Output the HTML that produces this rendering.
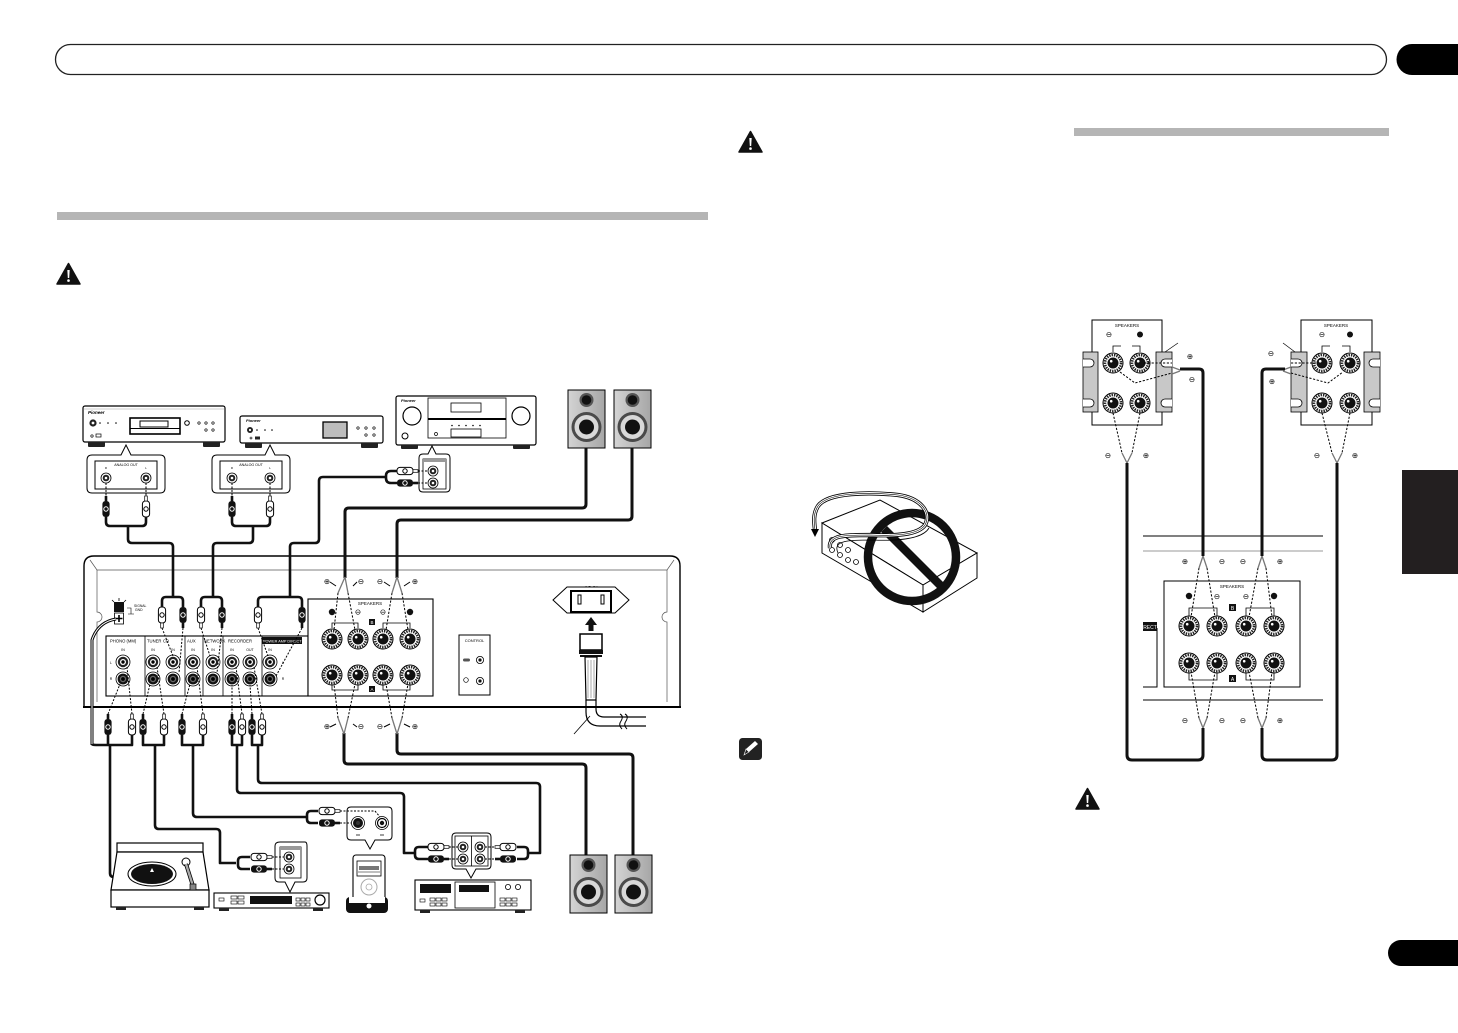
<!DOCTYPE html>
<html><head><meta charset="utf-8"><style>
html,body{margin:0;padding:0;background:#fff}
svg{display:block}
text{font-family:"Liberation Sans","DejaVu Sans",sans-serif}
.sym{font-family:"DejaVu Sans","Liberation Sans",sans-serif}
</style></head><body>
<svg width="1458" height="1033" viewBox="0 0 1458 1033" xmlns="http://www.w3.org/2000/svg">
<defs>
<linearGradient id="sg" x1="0" y1="0" x2="1" y2="0"><stop offset="0" stop-color="#d4d4d4"/><stop offset="1" stop-color="#a6a6a6"/></linearGradient>
<g id="spk"><rect x="0" y="0" width="37" height="58" fill="url(#sg)" stroke="#000" stroke-width="1"/><circle cx="18.5" cy="10" r="7" fill="#555"/><circle cx="18.5" cy="10" r="4.8" fill="#111"/><circle cx="18.5" cy="37" r="15" fill="#4a4a4a"/><circle cx="18.5" cy="37" r="12" fill="#d8d8d8"/><circle cx="18.5" cy="37" r="7.5" fill="#111"/></g>
<g id="post"><circle r="10" fill="#fff" stroke="#000" stroke-width="1"/><circle r="8" fill="none" stroke="#222" stroke-width="2.6" stroke-dasharray="1.4 1"/><circle r="5.5" fill="#111"/><circle cx="-1.8" cy="-1.8" r="1.3" fill="#fff"/></g>
<g id="jk"><circle r="7" fill="#fff" stroke="#000" stroke-width=".8"/><circle r="5.2" fill="#222"/><circle r="3" fill="#fff"/><circle r="1.7" fill="#000"/></g>
<g id="jkR"><circle r="7" fill="#fff" stroke="#000" stroke-width=".8"/><circle r="5.4" fill="#111"/><circle r="3.2" fill="#666"/><circle r="1.9" fill="#000"/></g>
<g id="sj"><circle r="5" fill="#fff" stroke="#000" stroke-width=".8"/><circle r="3.3" fill="#222"/><circle r="1.3" fill="#fff"/></g>
<g id="pb"><rect x="-3.6" y="-8" width="7.2" height="16" rx="3" fill="#111"/><circle r="2.2" fill="none" stroke="#fff" stroke-width="1"/><rect x="-1.3" y="8" width="2.6" height="5" fill="#111"/></g>
<g id="pw"><rect x="-3.6" y="-8" width="7.2" height="16" rx="3" fill="#fff" stroke="#000" stroke-width="1"/><circle r="2.2" fill="none" stroke="#000" stroke-width="1"/><rect x="-1.3" y="8" width="2.6" height="5" fill="#fff" stroke="#000" stroke-width=".7"/></g>
<g id="warn"><path d="M11.5,0.5 L23,21 L0,21 Z" fill="#111" stroke="#111" stroke-linejoin="round" stroke-width="1.5"/><path d="M10.3,7 H12.7 L12.2,15 H10.8 Z" fill="#fff"/><circle cx="11.5" cy="17.6" r="1.3" fill="#fff"/></g>
</defs>

<!-- header -->
<rect x="55.5" y="44.5" width="1331" height="30" rx="15" fill="#fff" stroke="#222" stroke-width="1.3"/>
<path d="M1412,44 H1458 V75 H1412 A15.5,15.5 0 0 1 1412,44 Z" fill="#000"/>

<!-- gray bars -->
<rect x="57" y="212" width="651" height="8" fill="#b5b5b5"/>
<rect x="1074" y="128" width="315" height="8" fill="#b5b5b5"/>

<!-- warnings / note -->
<use href="#warn" x="57" y="263"/>
<use href="#warn" x="739" y="131"/>
<use href="#warn" x="1076" y="788"/>
<rect x="739" y="738" width="23" height="22" rx="3.5" fill="#222"/>
<path d="M744,755 L746,749 L755,741 L758,744 L749,752 Z" fill="#fff"/><path d="M744,755 L746,749 L749,752 Z" fill="#222" stroke="#fff" stroke-width=".6"/>

<!-- side tabs -->
<rect x="1402" y="470" width="56" height="104" fill="#231f20"/>
<path d="M1401,940 H1458 V966 H1401 A13,13 0 0 1 1401,940 Z" fill="#000"/>

<!-- ================= LEFT DIAGRAM ================= -->
<!-- CD player -->
<rect x="83" y="406" width="142" height="36" rx="2" fill="#fff" stroke="#000" stroke-width="1.2"/>
<line x1="84" y1="409" x2="224" y2="409" stroke="#999" stroke-width=".6"/>
<text x="88" y="414" font-size="4.5" font-style="italic" font-weight="bold">Pioneer</text>
<circle cx="93" cy="423" r="3.6" fill="#222"/><circle cx="93" cy="423" r="1.4" fill="#fff"/>
<circle cx="100" cy="423" r=".8"/><circle cx="108" cy="423" r=".8"/><circle cx="116" cy="423" r=".8"/>
<rect x="130" y="418" width="50" height="16" fill="#fff" stroke="#000" stroke-width="1.6"/>
<rect x="140" y="421" width="28" height="6" fill="#fff" stroke="#000" stroke-width="1"/>
<line x1="130" y1="428.5" x2="180" y2="428.5" stroke="#000" stroke-width="1"/>
<circle cx="187" cy="423" r="2.3" fill="none" stroke="#000"/>
<circle cx="199" cy="423" r="1.2" fill="none" stroke="#000" stroke-width=".7"/><circle cx="206" cy="423" r="1.2" fill="none" stroke="#000" stroke-width=".7"/><circle cx="213" cy="423" r="1.2" fill="none" stroke="#000" stroke-width=".7"/>
<circle cx="206" cy="430" r="1.2" fill="none" stroke="#000" stroke-width=".7"/><circle cx="213" cy="430" r="1.2" fill="none" stroke="#000" stroke-width=".7"/>
<rect x="96" y="434" width="5" height="3" fill="none" stroke="#000" stroke-width=".7"/><circle cx="92" cy="436" r="1.2" fill="none" stroke="#000" stroke-width=".7"/>
<rect x="88" y="442" width="17" height="5" rx="1" fill="#222"/><rect x="203" y="442" width="17" height="5" rx="1" fill="#222"/>

<!-- network player -->
<rect x="240" y="416" width="143" height="27" rx="2" fill="#fff" stroke="#000" stroke-width="1.2"/>
<text x="246" y="422" font-size="4" font-style="italic" font-weight="bold">Pioneer</text>
<circle cx="250" cy="430" r="3" fill="#222"/><circle cx="250" cy="430" r="1.1" fill="#fff"/>
<circle cx="257" cy="430" r=".8"/><circle cx="265" cy="430" r=".8"/><circle cx="272" cy="430" r=".8"/>
<circle cx="251" cy="438" r="1" fill="none" stroke="#000" stroke-width=".6"/><rect x="255" y="436.5" width="5" height="3" fill="#222"/>
<rect x="323" y="422" width="24" height="16" fill="#bdbdbd" stroke="#000" stroke-width="1.3"/>
<circle cx="358" cy="428" r="1.2" fill="none" stroke="#000" stroke-width=".7"/><circle cx="366" cy="428" r="1.2" fill="none" stroke="#000" stroke-width=".7"/><circle cx="374" cy="428" r="1.2" fill="none" stroke="#000" stroke-width=".7"/>
<circle cx="366" cy="435" r="1.2" fill="none" stroke="#000" stroke-width=".7"/><circle cx="374" cy="435" r="1.2" fill="none" stroke="#000" stroke-width=".7"/>
<rect x="245" y="443" width="17" height="5" rx="1" fill="#222"/><rect x="361" y="443" width="17" height="5" rx="1" fill="#222"/>

<!-- AV receiver -->
<rect x="396" y="396" width="140" height="49" rx="2" fill="#fff" stroke="#000" stroke-width="1.2"/>
<text x="401" y="402" font-size="4" font-style="italic" font-weight="bold">Pioneer</text>
<rect x="428" y="398" width="78" height="40" fill="#fff" stroke="#000" stroke-width=".8"/>
<circle cx="412" cy="416" r="9" fill="#fff" stroke="#000" stroke-width="1.2"/><circle cx="521" cy="416" r="9" fill="#fff" stroke="#000" stroke-width="1.2"/>
<circle cx="405" cy="436" r="3" fill="none" stroke="#000" stroke-width="1"/>
<rect x="451" y="403" width="30" height="9" fill="#fff" stroke="#000" stroke-width=".8"/>
<line x1="428" y1="419" x2="506" y2="419" stroke="#000" stroke-width="2"/>
<circle cx="452" cy="425.5" r=".8"/><circle cx="459" cy="425.5" r=".8"/><circle cx="466" cy="425.5" r=".8"/><circle cx="473" cy="425.5" r=".8"/><circle cx="480" cy="425.5" r=".8"/>
<rect x="451" y="429" width="30" height="8" fill="#fff" stroke="#000" stroke-width=".8"/>
<circle cx="436" cy="434" r="1.5" fill="none" stroke="#000" stroke-width=".7"/>
<rect x="401" y="445" width="17" height="4" rx="1" fill="#222"/><rect x="513" y="445" width="17" height="4" rx="1" fill="#222"/>

<!-- top speakers -->
<use href="#spk" x="568" y="390"/>
<use href="#spk" x="614" y="390"/>

<!-- callouts top -->
<path d="M92,455 H121 L126,445 L131,455 H160 Q165,455 165,460 V488 Q165,493 160,493 H92 Q87,493 87,488 V460 Q87,455 92,455 Z" fill="#fff" stroke="#000" stroke-width="1"/>
<rect x="95" y="461" width="62" height="28" fill="#fff" stroke="#000" stroke-width="1"/>
<text x="126" y="466" font-size="3.6" text-anchor="middle">ANALOG OUT</text>
<text x="106" y="469" font-size="3" text-anchor="middle">R</text><text x="146" y="469" font-size="3" text-anchor="middle">L</text>
<use href="#sj" x="106" y="478"/><use href="#sj" x="146" y="478"/>

<path d="M217,455 H265 L270,445 L275,455 H285 Q290,455 290,460 V488 Q290,493 285,493 H217 Q212,493 212,488 V460 Q212,455 217,455 Z" fill="#fff" stroke="#000" stroke-width="1"/>
<rect x="220" y="461" width="62" height="28" fill="#fff" stroke="#000" stroke-width="1"/>
<text x="251" y="466" font-size="3.6" text-anchor="middle">ANALOG OUT</text>
<text x="232" y="469" font-size="3" text-anchor="middle">R</text><text x="270" y="469" font-size="3" text-anchor="middle">L</text>
<use href="#sj" x="232" y="478"/><use href="#sj" x="270" y="478"/>

<path d="M423,454 H428 L432,446 L436,454 H446 Q450,454 450,458 V488 Q450,492 446,492 H423 Q419,492 419,488 V458 Q419,454 423,454 Z" fill="#fff" stroke="#000" stroke-width="1"/>
<rect x="423" y="459" width="23" height="30" fill="#fff" stroke="#000" stroke-width=".8"/>
<rect x="423" y="459" width="23" height="3" fill="#999"/>
<use href="#sj" x="433" y="471"/><use href="#sj" x="433" y="483"/>

<!-- dashed from callout jacks -->
<g stroke="#000" stroke-width="1" stroke-dasharray="2 1.5" fill="none">
<path d="M106,483 V496"/><path d="M146,483 V496"/><path d="M232,483 V496"/><path d="M270,483 V496"/>
<path d="M418,471 H428"/><path d="M418,483 H428"/>
</g>
<g transform="translate(106,509) rotate(180)"><use href="#pb"/></g>
<g transform="translate(146,509) rotate(180)"><use href="#pw"/></g>
<g transform="translate(232,509) rotate(180)"><use href="#pb"/></g>
<g transform="translate(270,509) rotate(180)"><use href="#pw"/></g>
<g transform="translate(405,471) rotate(-90)"><use href="#pw"/></g>
<g transform="translate(405,483) rotate(-90)"><use href="#pb"/></g>

<!-- REAR PANEL -->
<path d="M84,707 V566 Q84,556 94,556 H670 Q680,556 680,566 V707" fill="#fff" stroke="#000" stroke-width="1.4"/>
<line x1="83" y1="707" x2="681" y2="707" stroke="#000" stroke-width="2"/>
<path d="M90,560 L97,570 H667 L674,560" fill="none" stroke="#555" stroke-width=".7"/>
<path d="M97,570 V612 A5,5 0 0 1 97,622 V702" fill="none" stroke="#555" stroke-width=".7"/>
<path d="M667,570 V612 A5,5 0 0 0 667,622 V702" fill="none" stroke="#555" stroke-width=".7"/>

<!-- ground -->
<rect x="114" y="602" width="10" height="10" fill="#111"/>
<g stroke="#000" stroke-width=".8"><line x1="112" y1="600" x2="114" y2="602"/><line x1="126" y1="600" x2="124" y2="602"/><line x1="119" y1="598" x2="119" y2="601"/></g>
<rect x="114.5" y="613" width="9" height="11" fill="#fff" stroke="#000" stroke-width=".8"/>
<path d="M119,615 V622 M115.5,618.5 H122.5" stroke="#000" stroke-width="1.6"/>
<path d="M127,608 H131 V614 M128,614 H134" fill="none" stroke="#000" stroke-width=".6"/>
<text x="134" y="607" font-size="3.4">SIGNAL</text><text x="135" y="611" font-size="3.4">GND</text>
<path d="M116,619 Q98,622 92,640 V745" fill="none" stroke="#000" stroke-width="3"/>
<path d="M116,619 Q98,622 92,640 V745" fill="none" stroke="#fff" stroke-width="1"/>

<!-- jack panel -->
<rect x="106" y="636" width="202" height="60" fill="#fff" stroke="#000" stroke-width="1.1"/>
<g stroke="#000" stroke-width=".8"><line x1="145" y1="636" x2="145" y2="696"/><line x1="185" y1="636" x2="185" y2="696"/><line x1="203" y1="636" x2="203" y2="696"/><line x1="223" y1="636" x2="223" y2="696"/><line x1="262" y1="636" x2="262" y2="696"/></g>
<rect x="262" y="637" width="40" height="7" fill="#111"/>
<g font-size="4.2">
<text x="110" y="642.5">PHONO (MM)</text><text x="147" y="642.5">TUNER</text><text x="163" y="642.5">CD</text><text x="187" y="642.5">AUX</text><text x="204" y="642.5">NETWORK</text><text x="228" y="642.5">RECORDER</text>
<text x="263" y="642.5" fill="#fff" font-size="3.8">POWER AMP DIRECT</text>
</g>
<g font-size="3.5" text-anchor="middle">
<text x="123" y="651">IN</text><text x="153" y="651">IN</text><text x="173" y="651">IN</text><text x="193" y="651">IN</text><text x="213" y="651">IN</text><text x="232" y="651">IN</text><text x="250" y="651">OUT</text><text x="270" y="651">IN</text>
<text x="111" y="664">L</text><text x="111" y="680">R</text><text x="283" y="664">L</text><text x="283" y="680">R</text>
</g>
<use href="#jk" x="123" y="662"/><use href="#jk" x="153" y="662"/><use href="#jk" x="173" y="662"/><use href="#jk" x="193" y="662"/><use href="#jk" x="213" y="662"/><use href="#jk" x="232" y="662"/><use href="#jk" x="250" y="662"/><use href="#jk" x="270" y="662"/>
<use href="#jkR" x="123" y="679"/><use href="#jkR" x="153" y="679"/><use href="#jkR" x="173" y="679"/><use href="#jkR" x="193" y="679"/><use href="#jkR" x="213" y="679"/><use href="#jkR" x="232" y="679"/><use href="#jkR" x="250" y="679"/><use href="#jkR" x="270" y="679"/>

<!-- dashed from plugs to jacks -->
<g stroke="#000" stroke-width="1" stroke-dasharray="2 1.5" fill="none">
<path d="M162,628 L173,656"/><path d="M183,628 L179,673"/>
<path d="M201,628 L210,656"/><path d="M222,628 L217,673"/>
<path d="M258,628 L268,656"/><path d="M302,628 L276,676"/>
<path d="M108,714 L120,684"/><path d="M132,714 L127,667"/>
<path d="M143,714 L150,684"/><path d="M164,714 L157,667"/>
<path d="M182,714 L190,684"/><path d="M203,714 L197,667"/>
<path d="M232,714 L232,685"/><path d="M242,714 L236,667"/>
<path d="M252,714 L250,685"/><path d="M262,714 L254,667"/>
</g>

<!-- top plugs -->
<use href="#pw" x="162" y="615"/><use href="#pb" x="183" y="615"/>
<use href="#pw" x="201" y="615"/><use href="#pb" x="222" y="615"/>
<use href="#pw" x="258" y="615"/><use href="#pb" x="302" y="615"/>
<!-- bottom plugs -->
<g transform="translate(108,727) rotate(180)"><use href="#pb"/></g>
<g transform="translate(132,727) rotate(180)"><use href="#pw"/></g>
<g transform="translate(143,727) rotate(180)"><use href="#pb"/></g>
<g transform="translate(164,727) rotate(180)"><use href="#pw"/></g>
<g transform="translate(182,727) rotate(180)"><use href="#pb"/></g>
<g transform="translate(203,727) rotate(180)"><use href="#pw"/></g>
<g transform="translate(232,727) rotate(180)"><use href="#pb"/></g>
<g transform="translate(242,727) rotate(180)"><use href="#pw"/></g>
<g transform="translate(252,727) rotate(180)"><use href="#pb"/></g>
<g transform="translate(262,727) rotate(180)"><use href="#pw"/></g>

<!-- speaker terminal box -->
<rect x="308" y="599" width="125" height="97" fill="#fff" stroke="#000" stroke-width="1.1"/>
<text x="370" y="605" font-size="4.5" text-anchor="middle">SPEAKERS</text>
<circle cx="332" cy="612" r="3.2" fill="#111"/><text class="sym" x="358" y="614.5" font-size="7.5" text-anchor="middle">⊖</text><text class="sym" x="383" y="614.5" font-size="7.5" text-anchor="middle">⊖</text><circle cx="410" cy="612" r="3.2" fill="#111"/>
<rect x="369" y="619" width="6" height="6" fill="#111"/><text x="372" y="624" font-size="4.5" fill="#fff" text-anchor="middle">B</text>
<rect x="369" y="686" width="6" height="6" fill="#111"/><text x="372" y="691" font-size="4.5" fill="#fff" text-anchor="middle">A</text>
<path d="M332,628 V623 H358 V628 M383,628 V623 H410 V628 M332,685 V690 H358 V685 M383,685 V690 H410 V685" fill="none" stroke="#000" stroke-width=".8"/>
<use href="#post" x="332" y="639"/><use href="#post" x="358" y="639"/><use href="#post" x="383" y="639"/><use href="#post" x="410" y="639"/>
<use href="#post" x="332" y="675"/><use href="#post" x="358" y="675"/><use href="#post" x="383" y="675"/><use href="#post" x="410" y="675"/>
<g stroke="#000" stroke-width="1" stroke-dasharray="2.2 1.6" fill="none">
<path d="M338,593 L334,630"/><path d="M348,593 L355,630"/><path d="M392,593 L386,630"/><path d="M402,593 L408,630"/>
<path d="M338,718 L334,684"/><path d="M348,718 L355,684"/><path d="M392,718 L386,684"/><path d="M402,718 L408,684"/>
</g>
<g class="sym" font-size="7.5" text-anchor="middle">
<text x="327" y="584">⊕</text><text x="361" y="584">⊖</text><text x="380" y="584">⊖</text><text x="415" y="584">⊕</text>
<text x="327" y="729">⊕</text><text x="361" y="729">⊖</text><text x="380" y="729">⊖</text><text x="415" y="729">⊕</text>
</g>
<g stroke="#000" stroke-width="1" fill="none"><path d="M330,582 L336,586 M353,586 L357,582 M384,582 L390,586 M404,586 L410,582 M330,727 L336,724 M353,724 L357,727 M384,727 L390,724 M404,724 L410,727"/></g>

<!-- control -->
<rect x="459" y="635" width="31" height="60" fill="#fff" stroke="#000" stroke-width="1"/>
<text x="474.5" y="642" font-size="4" text-anchor="middle">CONTROL</text>
<circle cx="480" cy="660" r="3.6" fill="#fff" stroke="#000" stroke-width=".8"/><circle cx="480" cy="660" r="1.6" fill="#111"/>
<circle cx="480" cy="681" r="3.6" fill="#fff" stroke="#000" stroke-width=".8"/><circle cx="480" cy="681" r="1.6" fill="#111"/>
<rect x="463" y="658.5" width="7" height="3" rx="1.5" fill="#555"/><circle cx="466" cy="680" r="2.3" fill="none" stroke="#000" stroke-width=".7"/>

<!-- AC IN -->
<text x="591" y="590" font-size="5" text-anchor="middle">AC IN</text>
<path d="M553,600 L567,587 H615 L629,600 L615,613 H567 Z" fill="#fff" stroke="#000" stroke-width="1"/>
<rect x="571" y="591" width="40" height="21" fill="#fff" stroke="#000" stroke-width="2"/>
<rect x="578" y="595" width="3" height="9" fill="#fff" stroke="#000" stroke-width="1"/><rect x="601" y="595" width="3" height="9" fill="#fff" stroke="#000" stroke-width="1"/>
<path d="M585,625 L591,617 L597,625 H593.5 V631 H588.5 V625 Z" fill="#111"/>
<rect x="580" y="634" width="22" height="16" fill="#fff" stroke="#000" stroke-width="1.5"/>
<rect x="579" y="650" width="24" height="4" fill="#111"/><rect x="580" y="655" width="22" height="2" fill="#111"/>
<path d="M585,657 H597 L596,700 H586 Z" fill="#fff" stroke="#000" stroke-width="1.2"/>
<path d="M588,660 V698 M591,660 V698 M594,660 V698" stroke="#888" stroke-width=".7"/>
<path d="M586,700 V712 Q586,726 600,726 H646" fill="none" stroke="#000" stroke-width="1.2"/>
<path d="M596,700 V709 Q596,717 604,717 H646" fill="none" stroke="#000" stroke-width="1.2"/>
<path d="M620,714 Q624,716 621,721 Q618,725 622,729 M625,714 Q629,716 626,721 Q623,725 627,729" fill="none" stroke="#000" stroke-width="1"/>
<line x1="574" y1="734" x2="590" y2="716" stroke="#000" stroke-width=".8"/>

<!-- cables top -->
<g fill="none" stroke="#111" stroke-width="2.6" stroke-linejoin="round">
<path d="M106,517 V522 Q106,526 110,526 H142 Q146,526 146,522 V517"/>
<path d="M128,526 V539 Q128,543 132,543 H169 Q173,543 173,547 V597"/>
<path d="M232,517 V522 Q232,526 236,526 H266 Q270,526 270,522 V517"/>
<path d="M253,526 V539 Q253,543 249,543 H217 Q213,543 213,547 V597"/>
<path d="M397,471 H391 Q386,471 386,476 V478 Q386,483 391,483 H397"/>
<path d="M386,477 H323 Q319,477 319,481 V539 Q319,543 315,543 H294 Q290,543 290,547 V597"/>
<path d="M162,607 V601 Q162,597 166,597 H179 Q183,597 183,601 V607"/>
<path d="M201,607 V601 Q201,597 205,597 H218 Q222,597 222,601 V607"/>
<path d="M258,607 V601 Q258,597 262,597 H298 Q302,597 302,601 V607"/>
</g>
<g fill="none" stroke="#111" stroke-width="3" stroke-linejoin="round">
<path d="M586,448 V504 Q586,508 582,508 H349 Q345,508 345,512 V578"/>
<path d="M632,448 V516 Q632,520 628,520 H401 Q397,520 397,524 V578"/>
</g>
<g fill="none" stroke="#777" stroke-width="1.3"><path d="M345,577 L338,593 M345,577 L348,593 M397,577 L392,593 M397,577 L402,593"/></g>

<!-- cables bottom -->
<g fill="none" stroke="#111" stroke-width="2.6" stroke-linejoin="round">
<path d="M92,744 Q92,745 96,745 H132 V735 M108,735 V745"/>
<path d="M110,745 V873 Q110,877 114,877 H127"/>
<path d="M143,735 V745 H164 V735"/>
<path d="M155,745 V825 Q155,829 159,829 H216 Q220,829 220,833 V863 H236"/>
<path d="M250,857 H242 Q238,857 238,861 V865 Q238,869 242,869 H250"/>
<path d="M182,735 V745 H203 V735"/>
<path d="M193,745 V813 Q193,817 197,817 H307"/>
<path d="M318,811 H311 Q307,811 307,815 V819 Q307,823 311,823 H318"/>
<path d="M232,735 V745 H242 V735"/>
<path d="M237,745 V789 Q237,793 241,793 H400 Q404,793 404,797 V853 H415"/>
<path d="M428,847 H419 Q415,847 415,851 V855 Q415,859 419,859 H428"/>
<path d="M252,735 V745 H262 V735"/>
<path d="M258,745 V779 Q258,783 262,783 H536 Q540,783 540,787 V853 H528"/>
<path d="M517,847 H524 Q528,847 528,851 V855 Q528,859 524,859 H517"/>
</g>
<g fill="none" stroke="#111" stroke-width="3" stroke-linejoin="round">
<path d="M344,733 V760 Q344,764 348,764 H582 Q586,764 586,768 V855"/>
<path d="M397,733 V750 Q397,754 401,754 H629 Q633,754 633,758 V855"/>
</g>
<g fill="none" stroke="#777" stroke-width="1.3"><path d="M344,734 L338,718 M344,734 L348,718 M397,734 L392,718 M397,734 L402,718"/></g>

<!-- turntable -->
<rect x="117" y="843" width="86" height="9" fill="#fff" stroke="#000" stroke-width="1.2"/>
<path d="M117,852 H203 L209,890 H111 Z" fill="#fff" stroke="#000" stroke-width="1.2"/>
<rect x="111" y="890" width="98" height="17" fill="#fff" stroke="#000" stroke-width="1.2"/>
<ellipse cx="152" cy="874" rx="24" ry="12" fill="#fff" stroke="#000" stroke-width="1"/>
<ellipse cx="152" cy="874" rx="21" ry="10" fill="#111"/>
<path d="M150,872 L152,868 L154,872 Z" fill="#fff"/>
<circle cx="186" cy="862" r="4" fill="#fff" stroke="#000"/>
<path d="M186,864 L193,886" stroke="#000" stroke-width="4"/><path d="M186,864 L193,886" stroke="#aaa" stroke-width="2.4"/>
<rect x="190" y="884" width="6" height="6" fill="#888" stroke="#000" stroke-width=".7"/>
<rect x="116" y="907" width="10" height="3" fill="#222"/><rect x="194" y="907" width="10" height="3" fill="#222"/>

<!-- tuner -->
<path d="M280,842 H305 Q307,842 307,846 V878 Q307,882 303,882 H295 L290,892 L285,882 H279 Q275,882 275,878 V846 Q275,842 280,842 Z" fill="#fff" stroke="#000" stroke-width="1"/>
<rect x="280" y="847" width="21" height="31" fill="#fff" stroke="#000" stroke-width=".8"/>
<rect x="280" y="847" width="21" height="3" fill="#999"/>
<use href="#sj" x="289" y="857"/><use href="#sj" x="289" y="869"/>
<g stroke="#000" stroke-width="1" stroke-dasharray="2 1.5"><path d="M272,857 H284 M272,869 H284"/></g>
<g transform="translate(259,857) rotate(-90)"><use href="#pw"/></g>
<g transform="translate(259,869) rotate(-90)"><use href="#pb"/></g>
<rect x="214" y="893" width="115" height="15" fill="#fff" stroke="#000" stroke-width="1.1"/>
<rect x="250" y="896" width="42" height="8" fill="#111"/>
<rect x="219" y="898" width="5" height="3" fill="none" stroke="#000" stroke-width=".6"/>
<g fill="none" stroke="#000" stroke-width=".6"><rect x="231" y="896" width="6" height="3"/><rect x="238" y="896" width="6" height="3"/><rect x="231" y="901" width="6" height="3"/><rect x="238" y="901" width="6" height="3"/><rect x="296" y="898" width="4" height="3"/><rect x="301" y="898" width="4" height="3"/><rect x="306" y="898" width="4" height="3"/><rect x="296" y="903" width="4" height="3"/><rect x="301" y="903" width="4" height="3"/><rect x="306" y="903" width="4" height="3"/></g>
<circle cx="320" cy="900" r="5" fill="#fff" stroke="#000" stroke-width="1.2"/>
<rect x="219" y="908" width="10" height="3" fill="#222"/><rect x="313" y="908" width="10" height="3" fill="#222"/>

<!-- iPod -->
<path d="M351,807 H388 Q392,807 392,811 V836 Q392,840 388,840 H375 L370,849 L365,840 H351 Q347,840 347,836 V811 Q347,807 351,807 Z" fill="#fff" stroke="#000" stroke-width="1"/>
<circle cx="358" cy="823" r="6.5" fill="#fff" stroke="#000" stroke-width=".8"/><circle cx="358" cy="823" r="5" fill="#111"/><circle cx="358" cy="823" r="2" fill="#333"/>
<circle cx="382" cy="823" r="6.5" fill="#fff" stroke="#000" stroke-width=".8"/><circle cx="382" cy="823" r="4.5" fill="none" stroke="#000" stroke-width="1.2"/><circle cx="382" cy="823" r="2.2" fill="#111"/>
<path d="M356,835 H360 M380,835 H384" stroke="#000" stroke-width=".8"/>
<g stroke="#000" stroke-width="1" stroke-dasharray="2 1.5" fill="none"><path d="M340,811 H375 L380,817"/><path d="M340,823 H351"/></g>
<g transform="translate(327,811) rotate(-90)"><use href="#pw"/></g>
<g transform="translate(327,823) rotate(-90)"><use href="#pb"/></g>
<rect x="353" y="855" width="32" height="45" rx="3" fill="#fff" stroke="#000" stroke-width="1.1"/>
<rect x="357" y="861" width="24" height="15" fill="#fff" stroke="#000" stroke-width=".8"/>
<rect x="359" y="866" width="20" height="4" fill="#777"/><path d="M358,872 H380" stroke="#000" stroke-width=".6"/>
<circle cx="369" cy="887" r="8" fill="#fff" stroke="#aaa" stroke-width="1"/><circle cx="369" cy="887" r="3" fill="#fff" stroke="#aaa" stroke-width=".8"/>
<rect x="346" y="897" width="42" height="16" rx="4" fill="#111"/>
<rect x="349" y="897" width="36" height="6" fill="#fff"/>
<circle cx="369" cy="906" r="2.5" fill="#fff"/>

<!-- cassette deck -->
<path d="M456,833 H487 Q491,833 491,837 V865 Q491,869 487,869 H476 L471,878 L466,869 H456 Q452,869 452,865 V837 Q452,833 456,833 Z" fill="#fff" stroke="#000" stroke-width="1"/>
<rect x="455" y="836" width="33" height="30" fill="#fff" stroke="#000" stroke-width=".8"/>
<line x1="471.5" y1="836" x2="471.5" y2="866" stroke="#000" stroke-width=".8"/>
<use href="#sj" x="463" y="847"/><use href="#sj" x="463" y="859"/><use href="#sj" x="480" y="847"/><use href="#sj" x="480" y="859"/>
<g stroke="#000" stroke-width="1" stroke-dasharray="2 1.5"><path d="M449,847 H458 M449,859 H458 M485,847 H495 M485,859 H495"/></g>
<g transform="translate(436,847) rotate(-90)"><use href="#pw"/></g>
<g transform="translate(436,859) rotate(-90)"><use href="#pb"/></g>
<g transform="translate(508,847) rotate(90)"><use href="#pw"/></g>
<g transform="translate(508,859) rotate(90)"><use href="#pb"/></g>
<rect x="415" y="880" width="116" height="30" fill="#fff" stroke="#000" stroke-width="1.1"/>
<rect x="420" y="884" width="31" height="9" fill="#111"/>
<rect x="455" y="882" width="40" height="26" fill="#fff" stroke="#000" stroke-width=".8"/>
<rect x="459" y="885" width="30" height="7" fill="#111"/>
<circle cx="508" cy="887" r="2.6" fill="none" stroke="#000" stroke-width=".8"/><circle cx="518" cy="887" r="2.6" fill="none" stroke="#000" stroke-width=".8"/>
<g fill="none" stroke="#000" stroke-width=".6"><rect x="420" y="899" width="5" height="3"/><rect x="430" y="898" width="5" height="3"/><rect x="436" y="898" width="5" height="3"/><rect x="442" y="898" width="5" height="3"/><rect x="430" y="903" width="5" height="3"/><rect x="436" y="903" width="5" height="3"/><rect x="442" y="903" width="5" height="3"/><rect x="500" y="898" width="5" height="3"/><rect x="506" y="898" width="5" height="3"/><rect x="512" y="898" width="5" height="3"/><rect x="500" y="903" width="5" height="3"/><rect x="506" y="903" width="5" height="3"/><rect x="512" y="903" width="5" height="3"/></g>
<rect x="420" y="910" width="10" height="3" fill="#222"/><rect x="515" y="910" width="10" height="3" fill="#222"/>

<!-- bottom speakers -->
<use href="#spk" x="570" y="855"/>
<use href="#spk" x="615" y="855"/>

<!-- ================= MIDDLE GRAPHIC ================= -->
<path d="M822,523 L880,500 L977,553 L923,585 Z" fill="#fff" stroke="#000" stroke-width="1"/>
<path d="M822,523 L923,585 V612 L822,553 Z" fill="#fff" stroke="#000" stroke-width="1"/>
<path d="M923,585 L977,553 V578 L923,612 Z" fill="#fff" stroke="#000" stroke-width="1"/>
<g fill="#fff" stroke="#000" stroke-width=".8"><circle cx="832" cy="540" r="2.5"/><circle cx="840" cy="545" r="2.5"/><circle cx="848" cy="550" r="2.5"/><circle cx="832" cy="550" r="2.5"/><circle cx="840" cy="555" r="2.5"/><circle cx="848" cy="560" r="2.5"/><circle cx="856" cy="562" r="2.5"/></g>
<circle cx="912" cy="557" r="44" fill="none" stroke="#111" stroke-width="8.5"/>
<line x1="884" y1="529" x2="941" y2="586" stroke="#111" stroke-width="8.5"/>
<g fill="none">
<path d="M830,548 C828,535 845,535 870,535 C895,536 918,535 925,525 C932,512 920,498 898,495 C870,492 828,492 818,506 C813,514 814,522 815,530" stroke="#000" stroke-width="4.2"/>
<path d="M830,548 C828,535 845,535 870,535 C895,536 918,535 925,525 C932,512 920,498 898,495 C870,492 828,492 818,506 C813,514 814,522 815,530" stroke="#fff" stroke-width="2.6"/>
<path d="M830,548 C828,535 845,535 870,535 C895,536 918,535 925,525 C932,512 920,498 898,495 C870,492 828,492 818,506 C813,514 814,522 815,530" stroke="#000" stroke-width=".6"/>
<path d="M838,553 C832,540 850,540 872,540 C895,541 922,540 929,528" stroke="#000" stroke-width=".8"/>
</g>
<path d="M811,529 L819,529 L815,537 Z" fill="#000"/>

<!-- ================= RIGHT DIAGRAM ================= -->
<!-- left speaker plate -->
<rect x="1092" y="320" width="70" height="105" fill="#fff" stroke="#000" stroke-width="1"/>
<text x="1127" y="327" font-size="4.5" text-anchor="middle">SPEAKERS</text>
<text class="sym" x="1109" y="337" font-size="7.5" text-anchor="middle">⊖</text><circle cx="1140" cy="334.5" r="3" fill="#111"/>
<rect x="1083" y="352" width="15" height="60" fill="#c8c8c8" stroke="#000" stroke-width=".8"/>
<rect x="1156" y="352" width="16" height="60" fill="#c8c8c8" stroke="#000" stroke-width=".8"/>
<g fill="#fff" stroke="#000" stroke-width=".8"><path d="M1083,359 H1090 A4,4 0 0 1 1090,367 H1083"/><path d="M1083,399 H1090 A4,4 0 0 1 1090,407 H1083"/><path d="M1172,359 H1165 A4,4 0 0 0 1165,367 H1172"/><path d="M1172,399 H1165 A4,4 0 0 0 1165,407 H1172"/></g>
<path d="M1113,352 V346 H1121 M1140,352 V346 H1132" fill="none" stroke="#000" stroke-width=".8"/>
<use href="#post" x="1113" y="363"/><use href="#post" x="1140" y="363"/><use href="#post" x="1113" y="403"/><use href="#post" x="1140" y="403"/>
<g stroke="#000" stroke-width="1" stroke-dasharray="2.2 1.6" fill="none">
<path d="M1144,363 H1172"/><path d="M1120,372 L1135,383 L1172,373"/>
<path d="M1113,413 L1122,453"/><path d="M1140,413 L1132,453"/>
</g>
<path d="M1172,367 L1180,370 M1172,374 L1180,371" stroke="#777" stroke-width="1.3"/>
<path d="M1165,352 L1178,343" stroke="#000" stroke-width=".7"/>
<g class="sym" font-size="7.5" text-anchor="middle"><text x="1190" y="359">⊕</text><text x="1192" y="382">⊖</text><text x="1108" y="458">⊖</text><text x="1146" y="458">⊕</text></g>
<path d="M1122,453 L1127,463 M1132,453 L1127,463" stroke="#777" stroke-width="1.3"/>

<!-- right speaker plate -->
<rect x="1301" y="320" width="71" height="105" fill="#fff" stroke="#000" stroke-width="1"/>
<text x="1336" y="327" font-size="4.5" text-anchor="middle">SPEAKERS</text>
<text class="sym" x="1322" y="337" font-size="7.5" text-anchor="middle">⊖</text><circle cx="1350" cy="334.5" r="3" fill="#111"/>
<rect x="1291" y="352" width="16" height="60" fill="#c8c8c8" stroke="#000" stroke-width=".8"/>
<rect x="1364" y="352" width="16" height="60" fill="#c8c8c8" stroke="#000" stroke-width=".8"/>
<g fill="#fff" stroke="#000" stroke-width=".8"><path d="M1291,359 H1298 A4,4 0 0 1 1298,367 H1291"/><path d="M1291,399 H1298 A4,4 0 0 1 1298,407 H1291"/><path d="M1380,359 H1373 A4,4 0 0 0 1373,367 H1380"/><path d="M1380,399 H1373 A4,4 0 0 0 1373,407 H1380"/></g>
<path d="M1322,352 V346 H1330 M1350,352 V346 H1342" fill="none" stroke="#000" stroke-width=".8"/>
<use href="#post" x="1322" y="363"/><use href="#post" x="1350" y="363"/><use href="#post" x="1322" y="403"/><use href="#post" x="1350" y="403"/>
<g stroke="#000" stroke-width="1" stroke-dasharray="2.2 1.6" fill="none">
<path d="M1291,363 H1318"/><path d="M1291,373 L1328,383 L1343,372"/>
<path d="M1322,413 L1332,453"/><path d="M1350,413 L1342,453"/>
</g>
<path d="M1291,367 L1283,370 M1291,374 L1283,371" stroke="#777" stroke-width="1.3"/>
<path d="M1295,352 L1283,343" stroke="#000" stroke-width=".7"/>
<g class="sym" font-size="7.5" text-anchor="middle"><text x="1271" y="356">⊖</text><text x="1272" y="384">⊕</text><text x="1317" y="458">⊖</text><text x="1355" y="458">⊕</text></g>
<path d="M1332,453 L1337,463 M1342,453 L1337,463" stroke="#777" stroke-width="1.3"/>

<!-- amp panel section -->
<line x1="1143" y1="536" x2="1323" y2="536" stroke="#000" stroke-width="1.1"/>
<line x1="1143" y1="551" x2="1323" y2="551" stroke="#999" stroke-width="1"/>
<line x1="1143" y1="700" x2="1323" y2="700" stroke="#000" stroke-width="1.1"/>
<path d="M1143,687 H1157 V628" fill="none" stroke="#000" stroke-width="1"/>
<rect x="1143" y="622" width="14" height="9" fill="#111"/><text x="1150" y="629" font-size="5" fill="#fff" text-anchor="middle">RECT</text>
<rect x="1164" y="581" width="136" height="106" fill="#fff" stroke="#000" stroke-width="1"/>
<text x="1232" y="588" font-size="4.5" text-anchor="middle">SPEAKERS</text>
<circle cx="1189" cy="596" r="3.2" fill="#111"/><text class="sym" x="1217" y="599" font-size="7.5" text-anchor="middle">⊖</text><text class="sym" x="1246" y="599" font-size="7.5" text-anchor="middle">⊖</text><circle cx="1274" cy="596" r="3.2" fill="#111"/>
<rect x="1229" y="604" width="7" height="7" fill="#111"/><text x="1232.5" y="610" font-size="5" fill="#fff" text-anchor="middle">B</text>
<rect x="1229" y="675" width="7" height="7" fill="#111"/><text x="1232.5" y="681" font-size="5" fill="#fff" text-anchor="middle">A</text>
<path d="M1189,616 V608 H1217 V616 M1246,616 V608 H1274 V616 M1189,673 V680 H1217 V673 M1246,673 V680 H1274 V673" fill="none" stroke="#000" stroke-width=".8"/>
<use href="#post" x="1189" y="626"/><use href="#post" x="1217" y="626"/><use href="#post" x="1246" y="626"/><use href="#post" x="1274" y="626"/>
<use href="#post" x="1189" y="663"/><use href="#post" x="1217" y="663"/><use href="#post" x="1246" y="663"/><use href="#post" x="1274" y="663"/>
<g stroke="#000" stroke-width="1" stroke-dasharray="2.2 1.6" fill="none">
<path d="M1199,568 L1191,617"/><path d="M1207,568 L1215,617"/><path d="M1258,568 L1249,617"/><path d="M1266,568 L1272,617"/>
<path d="M1199,718 L1191,672"/><path d="M1207,718 L1215,672"/><path d="M1258,718 L1249,672"/><path d="M1266,718 L1272,672"/>
</g>
<g class="sym" font-size="7.5" text-anchor="middle">
<text x="1185" y="564">⊕</text><text x="1222" y="564">⊖</text><text x="1243" y="564">⊖</text><text x="1280" y="564">⊕</text>
<text x="1185" y="723">⊖</text><text x="1222" y="723">⊖</text><text x="1243" y="723">⊖</text><text x="1280" y="723">⊕</text>
</g>
<g fill="none" stroke="#777" stroke-width="1.3"><path d="M1203,556 L1199,568 M1203,556 L1207,568 M1262,556 L1258,568 M1262,556 L1266,568 M1203,728 L1199,718 M1203,728 L1207,718 M1262,728 L1258,718 M1262,728 L1266,718"/></g>

<!-- right diagram thick wires -->
<g fill="none" stroke="#111" stroke-width="3" stroke-linejoin="round">
<path d="M1180,369 H1199 Q1203,369 1203,373 V556"/>
<path d="M1285,369 H1266 Q1262,369 1262,373 V556"/>
<path d="M1127,463 V755 Q1127,760 1132,760 H1198 Q1203,760 1203,755 V728"/>
<path d="M1337,463 V755 Q1337,760 1332,760 H1267 Q1262,760 1262,755 V728"/>
</g>
</svg>
</body></html>
